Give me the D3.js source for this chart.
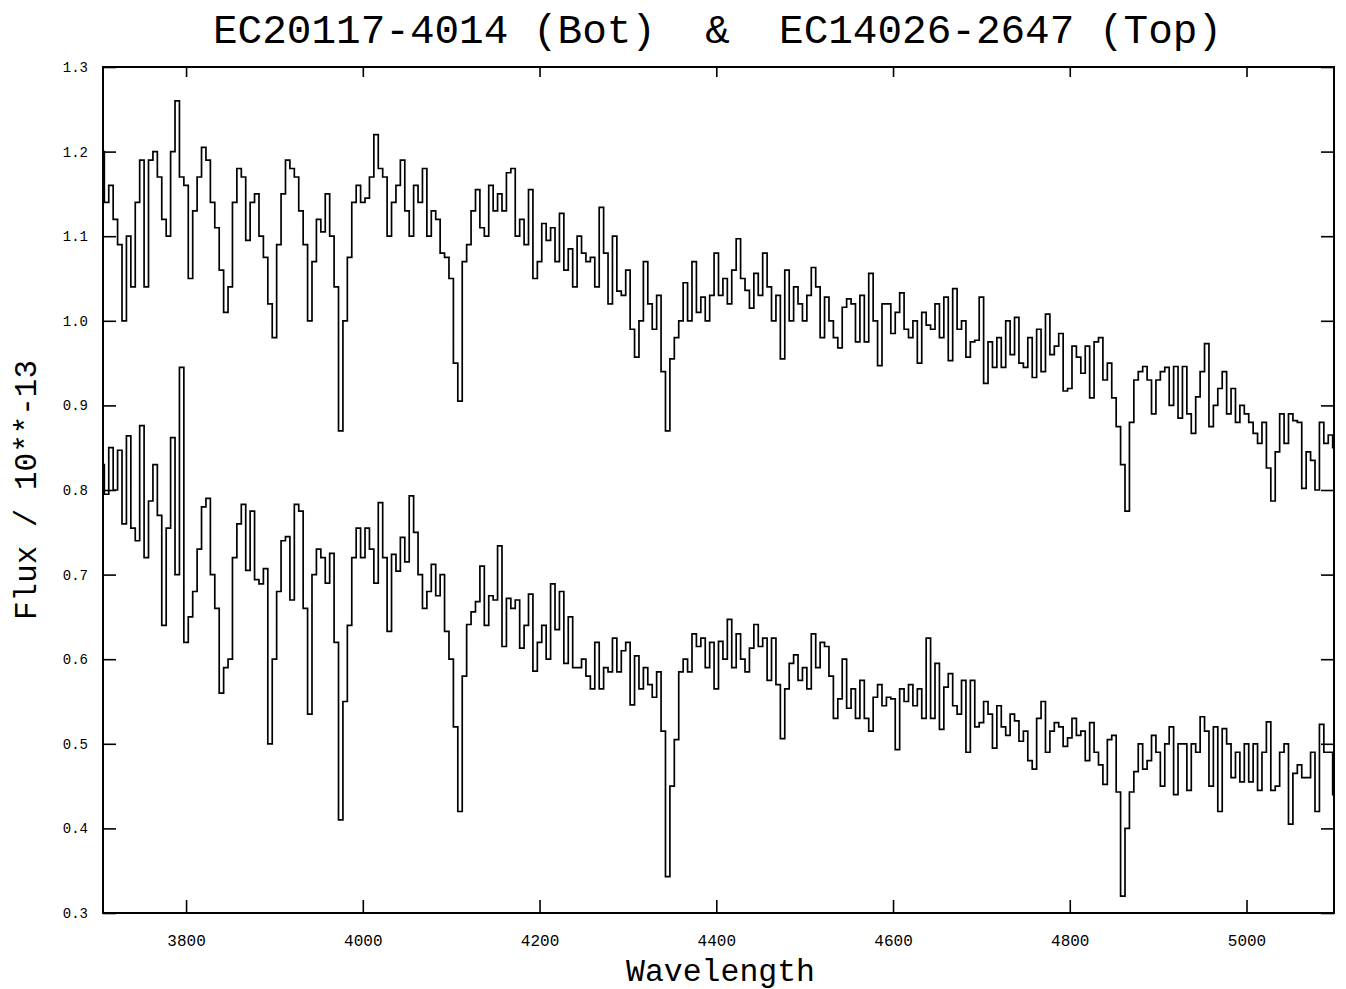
<!DOCTYPE html>
<html><head><meta charset="utf-8">
<script src="https://cdn.jsdelivr.net/npm/d3@7"></script>
<style>body{margin:0;background:#fff}</style>
</head><body><svg id="c" width="1346" height="989"></svg>
<script>
const titleText = "EC20117-4014 (Bot)  &  EC14026-2647 (Top)";
const xLabel = "Wavelength";
const yLabel = "Flux / 10**-13";
const waveStart = 3705, waveStep = 5;
const xTicks = [3800, 4000, 4200, 4400, 4600, 4800, 5000];
const yTicks = [0.3, 0.4, 0.5, 0.6, 0.7, 0.8, 0.9, 1.0, 1.1, 1.2, 1.3];

// EC14026-2647 (Top spectrum)
const topFlux = [
1.20,1.14,1.16,1.12,1.09,1.00,1.10,1.04,1.14,1.19,
1.04,1.19,1.20,1.17,1.12,1.10,1.20,1.26,1.17,1.16,
1.05,1.13,1.17,1.205,1.19,1.14,1.11,1.06,1.01,1.04,
1.14,1.18,1.17,1.095,1.14,1.15,1.10,1.075,1.02,0.98,
1.09,1.15,1.19,1.18,1.17,1.13,1.09,1.00,1.07,1.12,
1.105,1.15,1.10,1.04,0.87,1.00,1.075,1.14,1.16,1.14,
1.145,1.17,1.22,1.18,1.17,1.10,1.14,1.16,1.19,1.13,
1.10,1.16,1.14,1.18,1.10,1.13,1.12,1.08,1.075,1.05,
0.95,0.905,1.07,1.09,1.13,1.155,1.11,1.10,1.16,1.13,
1.15,1.13,1.175,1.18,1.10,1.12,1.09,1.155,1.05,1.07,
1.115,1.095,1.11,1.07,1.127,1.06,1.085,1.04,1.10,1.08,
1.07,1.075,1.04,1.134,1.08,1.02,1.10,1.035,1.03,1.06,
0.99,0.957,1.00,1.07,1.02,0.99,1.03,0.94,0.87,0.955,
0.98,1.00,1.045,1.00,1.07,1.01,1.028,1.00,1.03,1.08,
1.03,1.05,1.02,1.06,1.097,1.05,1.036,1.015,1.056,1.03,
1.08,1.04,1.00,1.03,0.955,1.06,1.00,1.04,1.02,1.00,
1.03,1.063,1.04,0.98,1.028,1.00,0.98,0.968,1.016,1.026,
1.02,0.975,1.03,0.975,1.056,1.00,0.947,1.02,1.02,0.985,
1.01,1.033,0.99,0.98,1.00,0.95,1.01,0.995,0.99,1.02,
0.98,1.028,0.953,1.038,0.99,1.00,0.957,0.975,0.977,1.028,
0.926,0.975,0.945,0.98,0.945,1.00,0.96,1.004,0.95,0.945,
0.98,0.933,0.99,0.94,1.008,0.96,0.97,0.985,0.917,0.92,
0.97,0.957,0.938,0.97,0.909,0.975,0.98,0.93,0.95,0.909,
0.875,0.83,0.775,0.88,0.93,0.94,0.946,0.93,0.89,0.93,
0.94,0.945,0.90,0.946,0.885,0.946,0.89,0.867,0.91,0.94,
0.973,0.875,0.90,0.92,0.94,0.89,0.92,0.88,0.90,0.89,
0.88,0.867,0.855,0.88,0.826,0.787,0.845,0.89,0.855,0.89,
0.882,0.88,0.802,0.845,0.835,0.80,0.88,0.855,0.865,0.85
];

// EC20117-4014 (Bottom spectrum)
const botFlux = [
0.83,0.795,0.85,0.80,0.847,0.76,0.864,0.755,0.74,0.876,
0.72,0.787,0.83,0.77,0.64,0.755,0.862,0.70,0.945,0.62,
0.65,0.68,0.73,0.78,0.79,0.70,0.66,0.56,0.59,0.60,
0.72,0.76,0.783,0.705,0.775,0.694,0.689,0.707,0.50,0.60,
0.68,0.74,0.745,0.67,0.783,0.775,0.66,0.535,0.70,0.73,
0.72,0.69,0.725,0.62,0.41,0.55,0.64,0.72,0.755,0.72,
0.755,0.73,0.69,0.785,0.72,0.633,0.724,0.704,0.744,0.715,
0.793,0.75,0.70,0.66,0.68,0.712,0.675,0.70,0.633,0.60,
0.52,0.42,0.58,0.641,0.656,0.668,0.71,0.64,0.675,0.67,
0.734,0.615,0.672,0.66,0.67,0.613,0.64,0.677,0.586,0.62,
0.64,0.60,0.689,0.635,0.68,0.595,0.65,0.59,0.59,0.60,
0.58,0.565,0.62,0.565,0.59,0.585,0.625,0.585,0.61,0.62,
0.546,0.604,0.565,0.59,0.57,0.555,0.585,0.515,0.343,0.45,
0.505,0.585,0.60,0.585,0.63,0.615,0.625,0.59,0.62,0.565,
0.621,0.60,0.647,0.59,0.63,0.60,0.585,0.613,0.641,0.615,
0.625,0.575,0.625,0.57,0.506,0.565,0.595,0.605,0.575,0.59,
0.565,0.63,0.59,0.62,0.615,0.58,0.53,0.553,0.60,0.542,
0.565,0.53,0.575,0.53,0.515,0.555,0.57,0.545,0.555,0.553,
0.493,0.565,0.55,0.57,0.545,0.565,0.53,0.625,0.53,0.595,
0.517,0.567,0.583,0.545,0.535,0.575,0.49,0.575,0.52,0.525,
0.55,0.535,0.495,0.545,0.52,0.51,0.535,0.527,0.503,0.515,
0.48,0.47,0.53,0.55,0.49,0.515,0.525,0.52,0.497,0.507,
0.53,0.51,0.515,0.48,0.525,0.49,0.475,0.452,0.505,0.51,
0.443,0.32,0.40,0.443,0.467,0.50,0.47,0.48,0.51,0.49,
0.45,0.50,0.52,0.44,0.50,0.50,0.445,0.50,0.49,0.532,
0.515,0.45,0.52,0.42,0.518,0.50,0.46,0.49,0.455,0.50,
0.455,0.50,0.445,0.49,0.526,0.445,0.45,0.49,0.50,0.405,
0.465,0.475,0.46,0.46,0.49,0.42,0.523,0.49,0.49,0.44
];

const svg = d3.select("#c");
const L = 103, R = 1334, T = 67, B = 913;
const x = d3.scaleLinear().domain([3706, 5099]).range([L, R]);
const y = d3.scaleLinear().domain([0.3, 1.3]).range([B, T]);
const mono = "'Liberation Mono','DejaVu Sans Mono','Courier New',monospace";

svg.append("defs").append("clipPath").attr("id","clip")
  .append("rect").attr("x",L).attr("y",T).attr("width",R-L).attr("height",B-T);

const toPts = arr => arr.map((f,i)=>({w: waveStart + i*waveStep, f}));
const line = d3.line().x(d=>x(d.w)).y(d=>y(d.f)).curve(d3.curveStep);

const g = svg.append("g").attr("clip-path","url(#clip)");
[topFlux, botFlux].forEach(arr=>{
  g.append("path").datum(toPts(arr)).attr("d", line)
    .attr("fill","none").attr("stroke","#000").attr("stroke-width",1.7)
    .attr("stroke-linejoin","miter");
});

// axes
const ax = (sel, axis) => {
  const a = svg.append("g").attr("transform", sel).call(axis);
  a.select(".domain").remove();
  a.selectAll(".tick line").attr("stroke","#000").attr("stroke-width",1.6);
  return a;
};
const xb = ax(`translate(0,${B})`, d3.axisBottom(x).tickValues(xTicks).tickSize(-13).tickSizeOuter(0).tickPadding(22).tickFormat(d3.format("d")));
xb.selectAll("text").attr("font-family",mono).attr("font-size",16).attr("fill","#000");
ax(`translate(0,${T})`, d3.axisTop(x).tickValues(xTicks).tickSize(-10).tickSizeOuter(0).tickFormat(""));
const yl = ax(`translate(${L},0)`, d3.axisLeft(y).tickValues(yTicks).tickSize(-13).tickSizeOuter(0).tickPadding(15).tickFormat(d3.format(".1f")));
yl.selectAll("text").attr("font-family",mono).attr("font-size",14).attr("fill","#000");
ax(`translate(${R},0)`, d3.axisRight(y).tickValues(yTicks).tickSize(-13).tickSizeOuter(0).tickFormat(""));

svg.append("rect").attr("x",L).attr("y",T).attr("width",R-L).attr("height",B-T)
  .attr("fill","none").attr("stroke","#000").attr("stroke-width",2);

svg.append("text").attr("x",213).attr("y",43).attr("font-family",mono).attr("font-size",40)
  .attr("textLength",1009).attr("lengthAdjust","spacingAndGlyphs")
  .style("white-space","pre").attr("fill","#000").text(titleText);
svg.append("text").attr("x",626).attr("y",981).attr("font-family",mono).attr("font-size",31)
  .attr("textLength",189).attr("lengthAdjust","spacingAndGlyphs").attr("fill","#000").text(xLabel);
svg.append("text").attr("transform","translate(36,490) rotate(-90)").attr("text-anchor","middle")
  .attr("font-family",mono).attr("font-size",31).attr("textLength",260).attr("lengthAdjust","spacingAndGlyphs")
  .style("white-space","pre").attr("fill","#000").text(yLabel);
</script></body></html>
